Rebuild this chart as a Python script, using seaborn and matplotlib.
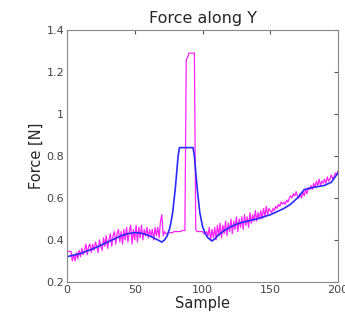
import numpy as np
import pandas as pd
import matplotlib
matplotlib.use("Agg")
import matplotlib.pyplot as plt
import matplotlib.ticker as mticker
import seaborn as sns

# Raw (noisy) force signal, one value per sample 0..200
raw_force = [
    0.345, 0.345, 0.345, 0.345, 0.30, 0.33, 0.30, 0.34, 0.31, 0.35,
    0.32, 0.36, 0.33, 0.35, 0.38, 0.33, 0.37, 0.38, 0.34, 0.38,
    0.35, 0.39, 0.37, 0.34, 0.40, 0.37, 0.35, 0.41, 0.37, 0.42,
    0.36, 0.40, 0.43, 0.37, 0.42, 0.44, 0.38, 0.43, 0.45, 0.39,
    0.44, 0.38, 0.45, 0.40, 0.46, 0.39, 0.44, 0.47, 0.38, 0.45,
    0.40, 0.47, 0.39, 0.46, 0.41, 0.47, 0.40, 0.45, 0.42, 0.46,
    0.41, 0.45, 0.42, 0.45, 0.40, 0.46, 0.42, 0.46, 0.41, 0.49,
    0.52, 0.42, 0.44, 0.43, 0.43, 0.435, 0.435, 0.435, 0.435, 0.44,
    0.44, 0.44, 0.44, 0.44, 0.44, 0.445, 0.445, 0.445, 1.26, 1.27,
    1.29, 1.29, 1.29, 1.29, 1.29, 0.45, 0.44, 0.44, 0.44, 0.44,
    0.44, 0.43, 0.43, 0.44, 0.42, 0.46, 0.40, 0.45, 0.41, 0.46,
    0.40, 0.47, 0.42, 0.48, 0.41, 0.47, 0.43, 0.49, 0.42, 0.48,
    0.44, 0.50, 0.43, 0.49, 0.45, 0.51, 0.44, 0.50, 0.46, 0.51,
    0.45, 0.52, 0.47, 0.51, 0.46, 0.53, 0.48, 0.52, 0.49, 0.54,
    0.49, 0.53, 0.50, 0.54, 0.50, 0.55, 0.51, 0.56, 0.52, 0.55,
    0.54, 0.53, 0.55, 0.54, 0.56, 0.55, 0.57, 0.56, 0.58, 0.57,
    0.58, 0.57, 0.59, 0.58, 0.60, 0.61, 0.60, 0.62, 0.61, 0.63,
    0.61, 0.60, 0.62, 0.60, 0.63, 0.61, 0.64, 0.62, 0.65, 0.64,
    0.66, 0.64, 0.67, 0.65, 0.68, 0.66, 0.69, 0.66, 0.68, 0.67,
    0.69, 0.67, 0.70, 0.68, 0.69, 0.71, 0.69, 0.70, 0.72, 0.71,
    0.73,
]
raw_samples = list(range(len(raw_force)))

# Smoothed force signal
smooth_samples = [0, 10, 20, 30, 35, 40, 45, 50, 55, 60, 64, 67, 70, 72, 74, 76,
                  78, 80, 82, 83, 93, 94, 96, 98, 100, 102, 104, 106, 107, 109,
                  112, 115, 120, 125, 130, 140, 150, 160, 165, 170, 175, 180,
                  190, 195, 200]
smooth_force = [0.32, 0.335, 0.36, 0.39, 0.405, 0.42, 0.43, 0.435, 0.432, 0.422,
                0.41, 0.40, 0.39, 0.40, 0.42, 0.46, 0.53, 0.65, 0.80, 0.84,
                0.84, 0.80, 0.65, 0.53, 0.465, 0.43, 0.41, 0.40, 0.395, 0.405,
                0.425, 0.44, 0.46, 0.475, 0.485, 0.50, 0.52, 0.55, 0.57, 0.60,
                0.64, 0.648, 0.66, 0.675, 0.72]

df_raw = pd.DataFrame({"Sample": raw_samples, "Force": raw_force})
df_smooth = pd.DataFrame({"Sample": smooth_samples, "Force": smooth_force})

sns.set_style("white")
plt.rcParams['font.family'] = ['DejaVu Sans']

fig = plt.figure(figsize=(3.45, 3.2), dpi=100)
ax = fig.add_axes([0.194, 0.119, 0.786, 0.787])

sns.lineplot(data=df_raw, x="Sample", y="Force", ax=ax, color="#ff22ff", linewidth=0.9)
sns.lineplot(data=df_smooth, x="Sample", y="Force", ax=ax, color="#2a2aff", linewidth=1.2)

ax.set_xlim(0, 200)
ax.set_ylim(0.2, 1.4)
ax.set_xticks([0, 50, 100, 150, 200])
ax.set_yticks([0.2, 0.4, 0.6, 0.8, 1.0, 1.2, 1.4])
ax.yaxis.set_major_formatter(mticker.FormatStrFormatter('%g'))
ax.tick_params(direction='in', top=True, right=True, length=3, width=0.8,
               labelsize=8, colors='#555555', labelcolor='#444444', pad=2)
for sp in ax.spines.values():
    sp.set_color('#888888')
    sp.set_linewidth(0.8)

ax.set_title("Force along Y", fontsize=11.5, pad=5)
ax.set_xlabel("Sample", fontsize=10.5, labelpad=1)
ax.set_ylabel("Force [N]", fontsize=10.5, labelpad=2)

fig.savefig("out.png", dpi=100)
